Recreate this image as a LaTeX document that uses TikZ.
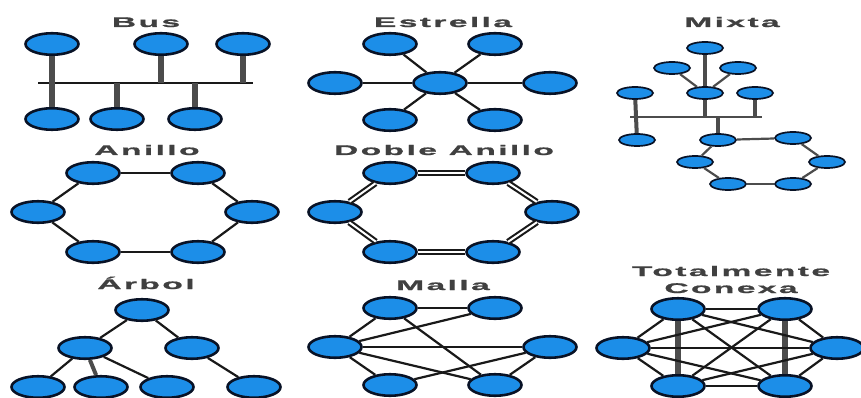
\documentclass[tikz,border=0pt]{standalone}
\usepackage{fontspec}
\newfontfamily\titlefont[FakeStretch=2.4,LetterSpace=17,FakeBold=1.2]{Liberation Sans Bold}
\usetikzlibrary{shapes.geometric}
\definecolor{nodeblue}{RGB}{28,142,232}
\definecolor{nodeline}{RGB}{8,18,38}
\tikzset{
pc/.style={ellipse,draw=nodeline,line width=2.6pt,fill=nodeblue,minimum width=53pt,minimum height=21.5pt,inner sep=0pt},
pcsmall/.style={pc,line width=1.7pt,minimum width=36pt,minimum height=12pt},
link/.style={draw=black!90,line width=2.2pt},
stub/.style={draw=black!70,line width=6pt},
dbl/.style={draw=black!90,line width=2.1pt,double=white,double distance=2pt},
title/.style={anchor=base,inner sep=0pt,font=\titlefont\fontsize{14}{17}\selectfont,text=black!75}
}
\begin{document}
\begin{tikzpicture}[x=1pt,y=-1pt]
\useasboundingbox (0,0) rectangle (861,398);
% Bus
\node[title] (tbus) at (146,27) {Bus};
\node[pc] (b1) at (52,44) {};
\node[pc] (b2) at (161,44) {};
\node[pc] (b3) at (243,44) {};
\node[pc] (b4) at (52,119) {};
\node[pc] (b5) at (117,119) {};
\node[pc] (b6) at (195,119) {};
\coordinate (busL) at (38,83);
\coordinate (busR) at (253,83);
\draw[link,line width=2.8pt] (busL) -- (busR);
\draw[stub] (b1) -- (b4);
\foreach \n in {b2,b3,b5,b6}{
\draw[stub] (\n) -- (\n |- busL);
}
% Estrella
\node[title] (test) at (443,27) {Estrella};
\node[pc] (e0) at (440,83) {};
\node[pc] (e1) at (390,44) {};
\node[pc] (e2) at (495,44) {};
\node[pc] (e3) at (335,83) {};
\node[pc] (e4) at (550,83) {};
\node[pc] (e5) at (390,120) {};
\node[pc] (e6) at (495,120) {};
\foreach \n in {e1,e2,e3,e4,e5,e6}{
\draw[link] (e0) -- (\n);
}
% Mixta
\node[title] (tmix) at (732,27) {Mixta};
\node[pcsmall] (m1) at (705,48) {};
\node[pcsmall] (m2) at (672,68) {};
\node[pcsmall] (m3) at (738,68) {};
\node[pcsmall] (m4) at (705,93) {};
\node[pcsmall] (m5) at (635,93) {};
\node[pcsmall] (m6) at (755,93) {};
\node[pcsmall] (m7) at (637,140) {};
\node[pcsmall] (r1) at (718,140) {};
\node[pcsmall] (r2) at (793,138) {};
\node[pcsmall] (r3) at (827,162) {};
\node[pcsmall] (r4) at (793,184) {};
\node[pcsmall] (r5) at (728,184) {};
\node[pcsmall] (r6) at (695,162) {};
\coordinate (mbusL) at (630,117);
\coordinate (mbusR) at (762,117);
\draw[link,draw=black!70] (mbusL) -- (mbusR);
\draw[stub,line width=4pt] (m1) -- (m4);
\draw[link,draw=black!70] (m2) -- (m4);
\draw[link,draw=black!70] (m3) -- (m4);
\draw[stub,line width=4pt] (m5) -- (m7);
\foreach \n in {m4,m6,r1}{
\draw[stub,line width=4pt] (\n) -- (\n |- mbusL);
}
\foreach \a/\b in {r1/r2,r2/r3,r3/r4,r4/r5,r5/r6,r6/r1}{
\draw[link,draw=black!70] (\a) -- (\b);
}
% Anillo
\node[title] (tani) at (147,155) {Anillo};
\node[pc] (a1) at (93,173) {};
\node[pc] (a2) at (198,173) {};
\node[pc] (a3) at (252,212) {};
\node[pc] (a4) at (198,252) {};
\node[pc] (a5) at (93,252) {};
\node[pc] (a6) at (38,212) {};
\foreach \a/\b in {a1/a2,a2/a3,a3/a4,a4/a5,a5/a6,a6/a1}{
\draw[link] (\a) -- (\b);
}
% Doble anillo
\node[title] (tdob) at (444,155) {Doble Anillo};
\node[pc] (d1) at (390,173) {};
\node[pc] (d2) at (493,173) {};
\node[pc] (d3) at (552,212) {};
\node[pc] (d4) at (493,252) {};
\node[pc] (d5) at (390,252) {};
\node[pc] (d6) at (335,212) {};
\foreach \a/\b in {d1/d2,d2/d3,d3/d4,d4/d5,d5/d6,d6/d1}{
\draw[dbl] (\a) -- (\b);
}
% Arbol
\node[title] (tarb) at (146,289) {Árbol};
\node[pc] (t1) at (142,310) {};
\node[pc] (t2) at (85,348) {};
\node[pc] (t3) at (192,348) {};
\node[pc] (t4) at (38,387) {};
\node[pc] (t5) at (101,387) {};
\node[pc] (t6) at (167,387) {};
\node[pc] (t7) at (254,387) {};
\draw[link] (t1) -- (t2);
\draw[link] (t1) -- (t3);
\draw[link] (t2) -- (t4);
\draw[stub,line width=4pt] (t2) -- (t5);
\draw[link] (t2) -- (t6);
\draw[link] (t3) -- (t7);
% Malla
\node[title] (tmal) at (443,290) {Malla};
\node[pc] (l1) at (390,308) {};
\node[pc] (l2) at (495,308) {};
\node[pc] (l3) at (335,347) {};
\node[pc] (l4) at (550,347) {};
\node[pc] (l5) at (390,385) {};
\node[pc] (l6) at (495,385) {};
\foreach \a/\b in {l1/l2,l1/l3,l1/l6,l3/l2,l3/l4,l3/l5,l3/l6,l4/l5,l4/l6}{
\draw[link] (\a) -- (\b);
}
% Totalmente conexa
\node[title,align=center] (ttot) at (731,293) {Totalmente\\Conexa};
\node[pc] (c1) at (678,309) {};
\node[pc] (c2) at (785,309) {};
\node[pc] (c3) at (623,348) {};
\node[pc] (c4) at (837,348) {};
\node[pc] (c5) at (678,386) {};
\node[pc] (c6) at (785,386) {};
\draw[stub] (c1) -- (c5);
\draw[stub] (c2) -- (c6);
\foreach \a/\b in {c1/c2,c1/c3,c1/c4,c1/c6,c2/c3,c2/c4,c2/c5,c3/c4,c3/c5,c3/c6,c4/c5,c4/c6,c5/c6}{
\draw[link] (\a) -- (\b);
}
\end{tikzpicture}
\end{document}
